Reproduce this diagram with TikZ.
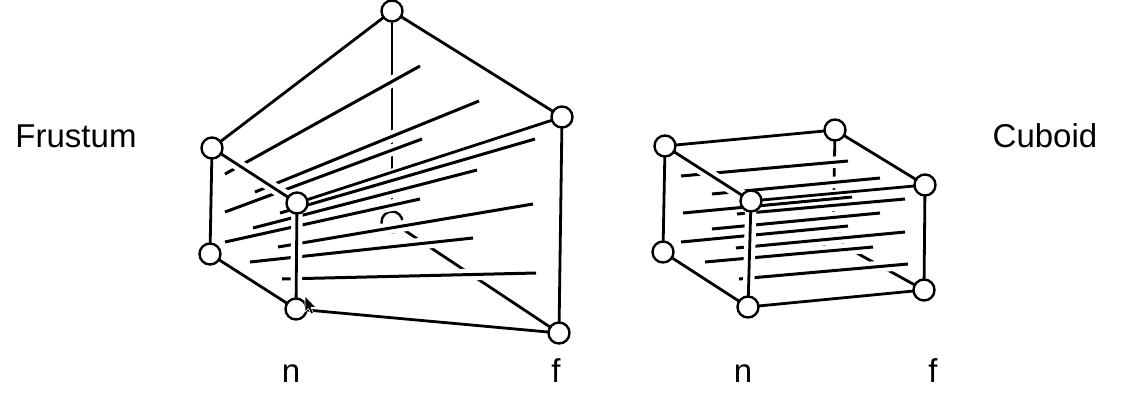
\documentclass[tikz,border=0pt]{standalone}
\usepackage{fontspec}
\setmainfont{Liberation Sans}
\begin{document}
\begin{tikzpicture}[x=1pt,y=-1pt]
\tikzset{
  edge/.style={line width=2.8pt, line cap=round},
  halo/.style={draw=white, line width=11.5pt, line cap=butt},
  thinhalo/.style={draw=white, line width=7pt, line cap=butt},
  slice/.style={line width=3pt, line cap=butt},
  vtx/.style={circle, draw, line width=2.4pt, fill=white, minimum size=21pt, inner sep=0pt},
  lbl/.style={font=\fontsize{33}{40}\selectfont, anchor=base, inner sep=0pt},
}
\useasboundingbox (0,0) rectangle (1129,410);
\fill[white] (0,0) rectangle (1129,410);

% ---------------- Frustum ----------------
\coordinate (Ftop) at (392,11);
\coordinate (Fnt)  at (212,148);
\coordinate (Fnft) at (297,203);
\coordinate (Fnb)  at (210,254);
\coordinate (Fnfb) at (296,309);
\coordinate (Fr)   at (562,117);
\coordinate (Frb)  at (559,333);
\coordinate (Fh)   at (392,222);

% hidden edges
\draw[edge] (Ftop) -- (Fh);
\draw[edge] (Fh) -- (Frb);
\node[vtx] (fh) at (Fh) {};

% slices
\foreach \xa/\ya/\xb/\yb in {225/174/420/66, 255/192/479/101, 225/212/422/139,
  280/213/535/139, 253/228/477/170, 225/242/420/199, 278/247/533/204,
  250/262/473/238, 282/279/536/273}
  \draw[halo] (\xa,\ya) -- (\xb,\yb);
\foreach \xa/\ya/\xb/\yb in {225/174/420/66, 255/192/479/101, 225/212/422/139,
  280/213/535/139, 253/228/477/170, 225/242/420/199, 278/247/533/204,
  250/262/473/238, 282/279/536/273}
  \draw[slice] (\xa,\ya) -- (\xb,\yb);

% visible edges
\draw[edge] (Fnt) -- (Ftop);
\draw[edge] (Ftop) -- (Fr);
\draw[edge] (Fr) -- (Frb);
\draw[edge] (Frb) -- (Fnfb);
\draw[edge] (Fnfb) -- (Fnb);
\draw[edge] (Fnb) -- (Fnt);
\draw[halo] (Fnt) -- (Fnft);
\draw[halo] (Fnft) -- (Fnfb);
\draw[thinhalo] (Fnft) -- (Fr);
\draw[edge] (Fnt) -- (Fnft);
\draw[edge] (Fnft) -- (Fnfb);
\draw[edge] (Fnft) -- (Fr);

\foreach \p in {Ftop,Fnt,Fnft,Fnb,Fnfb,Fr,Frb}
  \node[vtx] (v\p) at (\p) {};

% cursor
\filldraw[fill=black, draw=white, line width=0.6pt, line join=round]
  (305,296) -- (305,312) -- (308.5,308.5) -- (311,314) -- (313.5,313) -- (311,307.5) -- (316,307.5) -- cycle;

% ---------------- Cuboid ----------------
\coordinate (Cnt)  at (665,146);
\coordinate (Cnft) at (751,201);
\coordinate (Cnb)  at (663,252);
\coordinate (Cnfb) at (748,307);
\coordinate (Cft)  at (835,130);
\coordinate (Cfr)  at (925,185);
\coordinate (Cfrb) at (924,290);
\coordinate (Ch)   at (833,240);

\draw[edge] (Cft) -- (Ch);
\draw[edge] (Ch) -- (Cfrb);
\node[vtx] (ch) at (Ch) {};

\foreach \xa/\ya/\xb/\yb in {681/176/848/161, 712/194/880/178, 683/213/852/197,
  737/214/905/199, 712/229/880/213, 681/242/848/226, 736/248/905/232,
  705/262/873/247, 739/279/908/264}
  \draw[halo] (\xa,\ya) -- (\xb,\yb);
\foreach \xa/\ya/\xb/\yb in {681/176/848/161, 712/194/880/178, 683/213/852/197,
  737/214/905/199, 712/229/880/213, 681/242/848/226, 736/248/905/232,
  705/262/873/247, 739/279/908/264}
  \draw[slice] (\xa,\ya) -- (\xb,\yb);

\draw[edge] (Cnt) -- (Cft);
\draw[edge] (Cft) -- (Cfr);
\draw[edge] (Cfr) -- (Cfrb);
\draw[edge] (Cfrb) -- (Cnfb);
\draw[edge] (Cnfb) -- (Cnb);
\draw[edge] (Cnb) -- (Cnt);
\draw[halo] (Cnt) -- (Cnft);
\draw[halo] (Cnft) -- (Cnfb);
\draw[thinhalo] (Cnft) -- (Cfr);
\draw[edge] (Cnt) -- (Cnft);
\draw[edge] (Cnft) -- (Cnfb);
\draw[edge] (Cnft) -- (Cfr);

\foreach \p in {Cnt,Cnft,Cnb,Cnfb,Cft,Cfr,Cfrb}
  \node[vtx] (v\p) at (\p) {};

% ---------------- Labels ----------------
\node[lbl] (frustum) at (76,147) {Frustum};
\node[lbl] (cuboid) at (1045,147) {Cuboid};
\node[lbl] (n1) at (291,382) {n};
\node[lbl] (f1) at (556,382) {f};
\node[lbl] (n2) at (743,382) {n};
\node[lbl] (f2) at (933,382) {f};
\end{tikzpicture}
\end{document}
